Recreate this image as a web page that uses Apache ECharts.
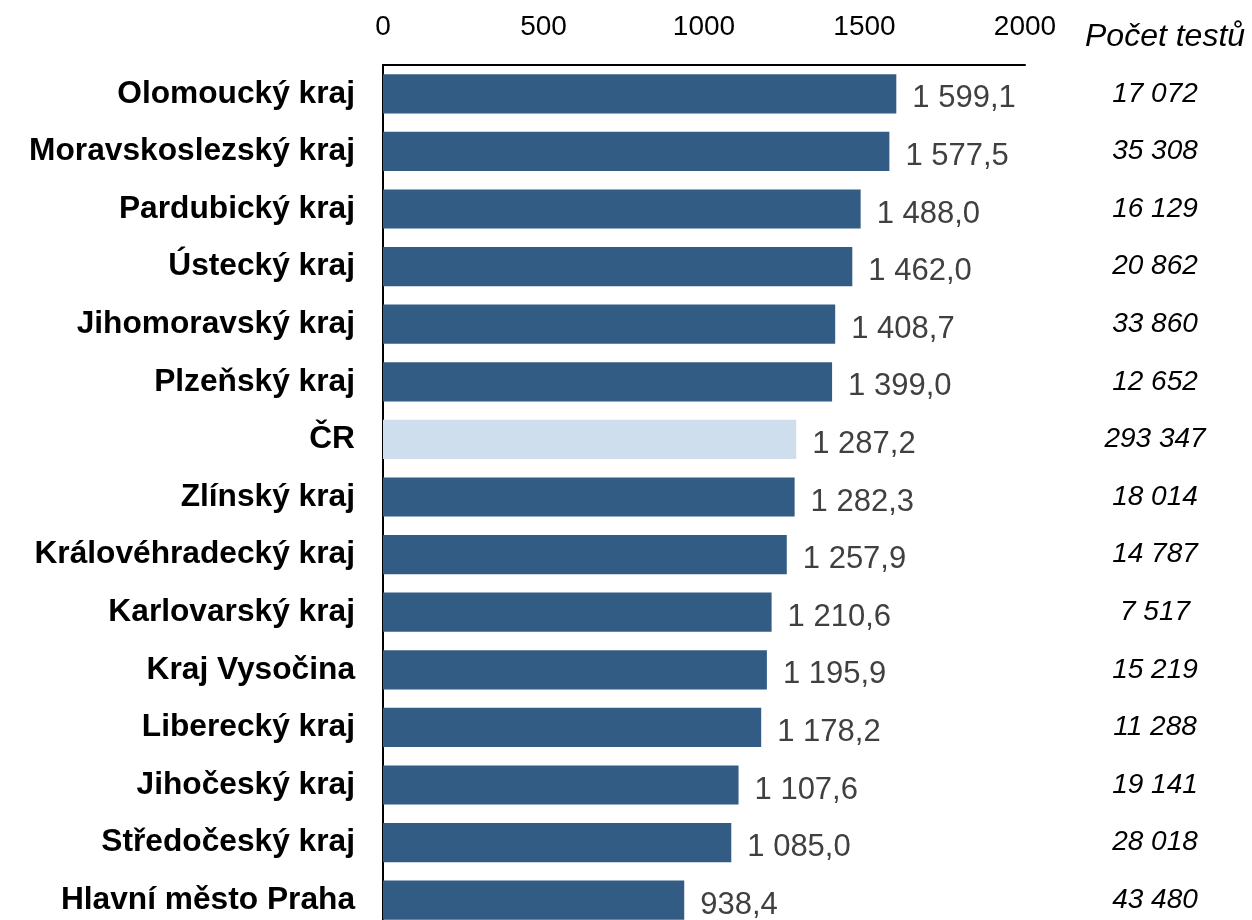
<!DOCTYPE html>
<html>
<head>
<meta charset="utf-8">
<script src="https://cdn.jsdelivr.net/npm/echarts@6/dist/echarts.min.js"></script>
<style>
html,body{margin:0;padding:0;background:#fff;}
#chart{width:1252px;height:920px;}
</style>
</head>
<body>
<div id="chart"></div>
<script>
const categories = ["Olomoucký kraj","Moravskoslezský kraj","Pardubický kraj","Ústecký kraj","Jihomoravský kraj","Plzeňský kraj","ČR","Zlínský kraj","Královéhradecký kraj","Karlovarský kraj","Kraj Vysočina","Liberecký kraj","Jihočeský kraj","Středočeský kraj","Hlavní město Praha"];
const values = [1599.1,1577.5,1488.0,1462.0,1408.7,1399.0,1287.2,1282.3,1257.9,1210.6,1195.9,1178.2,1107.6,1085.0,938.4];
const tests = ["17 072","35 308","16 129","20 862","33 860","12 652","293 347","18 014","14 787","7 517","15 219","11 288","19 141","28 018","43 480"];
const highlight = "ČR";
const testsHeader = "Počet testů";

const FONT = '"Liberation Sans", Arial, sans-serif';
function fmt(v){
  const s = v.toFixed(1).split('.');
  const int = s[0].replace(/\B(?=(\d{3})+(?!\d))/g, ' ');
  return int + ',' + s[1];
}
const chart = echarts.init(document.getElementById('chart'));
chart.setOption({
  animation:false,
  backgroundColor:'#fff',
  textStyle:{fontFamily:FONT},
  grid:{left:383, top:65, width:642, height:864, outerBoundsMode:'none', containLabel:false},
  xAxis:{
    type:'value', position:'top', min:0, max:2000, interval:500,
    axisLine:{show:true, lineStyle:{color:'#000', width:2}},
    axisTick:{show:false}, splitLine:{show:false},
    axisLabel:{color:'#000', fontSize:28, margin:24, fontFamily:FONT, formatter:v=>String(v)}
  },
  yAxis:[{
    type:'category', inverse:true, data:categories,
    axisLine:{show:true, lineStyle:{color:'#000', width:2}},
    axisTick:{show:false},
    axisLabel:{color:'#000', fontSize:31.7, fontWeight:'bold', margin:28, fontFamily:FONT}
  },{
    type:'category', inverse:true, data:tests, position:'right',
    axisLine:{show:false}, axisTick:{show:false},
    axisLabel:{color:'#000', fontSize:28, fontStyle:'italic', align:'center', margin:130, fontFamily:FONT, padding:[6,0,0,0]}
  }],
  graphic:[{
    type:'text', left:1085, top:21,
    style:{text:testsHeader, fontSize:32, fontStyle:'italic', fill:'#000', fontFamily:FONT}
  }],
  series:[{
    type:'bar', yAxisIndex:0, barCategoryGap:'32%',
    data: values.map((v,i)=>({value:v, itemStyle:{color: categories[i]===highlight ? '#CFDEED' : '#335C85'}})),
    label:{show:true, position:'right', distance:16, offset:[0,5], color:'#404040', fontSize:31, fontFamily:FONT, formatter:p=>fmt(p.value)}
  }]
});
</script>
</body>
</html>
